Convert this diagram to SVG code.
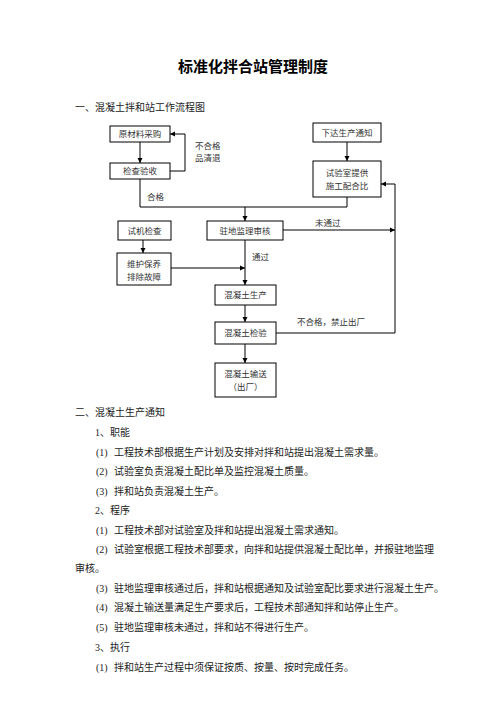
<svg xmlns="http://www.w3.org/2000/svg" width="496" height="702" viewBox="0 0 496 702">
<defs>
<marker id="ah" markerUnits="userSpaceOnUse" markerWidth="6" markerHeight="6" refX="5" refY="3" orient="auto">
<path d="M0,0.5 L5,3 L0,5.5 Z" fill="#000"/>
</marker>
<style>
.bx{fill:#fff;stroke:#000;stroke-width:1}
.bt{font-family:"Liberation Serif","Noto Sans CJK SC",serif;font-size:8.5px;fill:#333;text-anchor:middle}
.lb{font-family:"Liberation Serif","Noto Sans CJK SC",serif;font-size:8.5px;fill:#333}
.ln{fill:none;stroke:#000;stroke-width:1}
.ar{fill:none;stroke:#000;stroke-width:1;marker-end:url(#ah)}
.tx{font-family:"Liberation Serif","Noto Sans CJK SC",serif;font-size:10px;fill:#222}
.ti{font-family:"Liberation Sans","Noto Sans CJK SC",sans-serif;font-size:15px;font-weight:bold;fill:#000;text-anchor:middle}
</style>
</defs>
<rect width="496" height="702" fill="#fff"/>
<text class="ti" x="253" y="72">标准化拌合站管理制度</text>
<text class="tx" x="75" y="111">一、混凝土拌和站工作流程图</text>

<g id="connectors">
<path class="ar" d="M140,142 V163"/>
<path class="ar" d="M170,171 H185 V134 H170"/>
<path class="ln" d="M140,179 V207 H347 V197"/>
<path class="ar" d="M245,207 V221"/>
<path class="ar" d="M347,142 V161"/>
<path class="ar" d="M143,240 V253"/>
<path class="ar" d="M171,268 H245"/>
<path class="ar" d="M245,240 V285"/>
<path class="ar" d="M283,230 H395"/>
<path class="ar" d="M245,305 V322"/>
<path class="ar" d="M245,344 V363"/>
<path class="ar" d="M276,333 H395 V184 H381"/>
<text class="lb" x="195" y="149">不合格</text>
<text class="lb" x="195" y="161">品清退</text>
<text class="lb" x="147" y="200">合格</text>
<text class="lb" x="315" y="226">未通过</text>
<text class="lb" x="252" y="260">通过</text>
<text class="lb" x="297" y="325">不合格，禁止出厂</text>
</g>

<g id="n1"><rect class="bx" x="110" y="126" width="60" height="16"/><text class="bt" x="140" y="137">原材料采购</text></g>
<g id="n2"><rect class="bx" x="110" y="163" width="60" height="16"/><text class="bt" x="140" y="174">检查验收</text></g>
<g id="n3"><rect class="bx" x="313" y="123" width="68" height="19"/><text class="bt" x="347" y="135.5">下达生产通知</text></g>
<g id="n4"><rect class="bx" x="313" y="161" width="68" height="36"/><text class="bt" x="347" y="176">试验室提供</text><text class="bt" x="347" y="189">施工配合比</text></g>
<g id="n5"><rect class="bx" x="118" y="221" width="53" height="19"/><text class="bt" x="144.5" y="233.5">试机检查</text></g>
<g id="n6"><rect class="bx" x="207" y="221" width="76" height="19"/><text class="bt" x="245" y="233.5">驻地监理审核</text></g>
<g id="n7"><rect class="bx" x="117" y="253" width="54" height="32"/><text class="bt" x="144" y="267">维护保养</text><text class="bt" x="144" y="280">排除故障</text></g>
<g id="n8"><rect class="bx" x="215" y="285" width="61" height="20"/><text class="bt" x="245.5" y="298">混凝土生产</text></g>
<g id="n9"><rect class="bx" x="215" y="322" width="61" height="22"/><text class="bt" x="245.5" y="336">混凝土检验</text></g>
<g id="n10"><rect class="bx" x="215" y="363" width="61" height="34"/><text class="bt" x="245.5" y="377">混凝土输送</text><text class="bt" x="245.5" y="390">（出厂）</text></g>

<text class="tx" x="75" y="416">二、混凝土生产通知</text>
<text class="tx" x="95" y="436">1、职能</text>
<text class="tx" x="96" y="456">(1)<tspan x="114">工程技术部根据生产计划及安排对拌和站提出混凝土需求量。</tspan></text>
<text class="tx" x="96" y="475">(2)<tspan x="114">试验室负责混凝土配比单及监控混凝土质量。</tspan></text>
<text class="tx" x="96" y="495">(3)<tspan x="114">拌和站负责混凝土生产。</tspan></text>
<text class="tx" x="95" y="514">2、程序</text>
<text class="tx" x="96" y="534">(1)<tspan x="114">工程技术部对试验室及拌和站提出混凝土需求通知。</tspan></text>
<text class="tx" x="96" y="553">(2)<tspan x="114">试验室根据工程技术部要求，向拌和站提供混凝土配比单，并报驻地监理</tspan></text>
<text class="tx" x="75" y="572">审核。</text>
<text class="tx" x="96" y="592">(3)<tspan x="114">驻地监理审核通过后，拌和站根据通知及试验室配比要求进行混凝土生产。</tspan></text>
<text class="tx" x="96" y="611">(4)<tspan x="114">混凝土输送量满足生产要求后，工程技术部通知拌和站停止生产。</tspan></text>
<text class="tx" x="96" y="631">(5)<tspan x="114">驻地监理审核未通过，拌和站不得进行生产。</tspan></text>
<text class="tx" x="95" y="651">3、执行</text>
<text class="tx" x="96" y="671">(1)<tspan x="114">拌和站生产过程中须保证按质、按量、按时完成任务。</tspan></text>
</svg>
